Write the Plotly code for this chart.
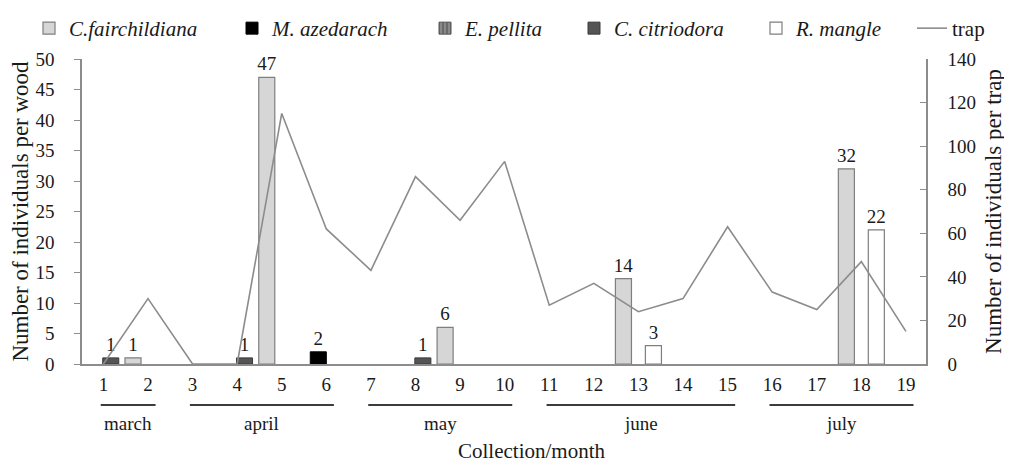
import plotly.graph_objects as go

# ---- data ----
collections = list(range(1, 20))
tick_labels = [str(c) for c in collections]
c_fairchildiana = [None, 1, None, None, 47, None, None, None, 6, None, None, None, 14, None, None, None, None, 32, None]
m_azedarach = [None, None, None, None, None, 2, None, None, None, None, None, None, None, None, None, None, None, None, None]
e_pellita = [None] * 19
c_citriodora = [1, None, None, 1, None, None, None, 1, None, None, None, None, None, None, None, None, None, None, None]
r_mangle = [None, None, None, None, None, None, None, None, None, None, None, None, 3, None, None, None, None, 22, None]
trap = [0, 30, 0, 0, 115, 62, 43, 86, 66, 93, 27, 37, 24, 30, 63, 33, 25, 47, 15]

month_names = ["march", "april", "may", "june", "july"]
month_first = [1, 3, 7, 11, 16]
month_last = [2, 6, 10, 15, 19]

FONT = "Liberation Serif, Times New Roman, serif"
TXT = "#1a1a1a"
AX = "#8c8c8c"

OFF = 8  # page body margin
W, H = 1004, 454
ML, MT = 82 - OFF, 59 - OFF
MR = W - (926 - OFF)
MB = H - (364 - OFF)
PW, PH = W - ML - MR, H - MT - MB


def px_x(p):
    return (p - OFF - ML) / PW


def px_y(p):
    return (H - MB - (p - OFF)) / PH


BW = 0.36  # bar width in category units

series = [
    ("<i>C.fairchildiana</i>", c_fairchildiana, dict(color="#d6d6d6", line=dict(color="#7f7f7f", width=1.2)), -0.336),
    ("<i>M. azedarach</i>", m_azedarach, dict(color="#000000", line=dict(color="#000000", width=1)), -0.18),
    ("<i>E. pellita</i>", e_pellita, dict(color="#8a8a8a", line=dict(color="#555555", width=1),
                                          pattern=dict(shape="|", fgcolor="#3a3a3a", size=5, solidity=0.4)), 0.0),
    ("<i>C. citriodora</i>", c_citriodora, dict(color="#555555", line=dict(color="#3a3a3a", width=1)), 0.165),
    ("<i>R. mangle</i>", r_mangle, dict(color="#ffffff", line=dict(color="#7f7f7f", width=1.2)), 0.336),
]
legend_ids = ["legend", "legend2", "legend3", "legend4", "legend5", "legend6"]
legend_text_px = [70, 273, 466, 615, 797, 953]

fig = go.Figure()
for (name, vals, marker, center), lg in zip(series, legend_ids):
    fig.add_trace(go.Bar(
        x=collections, y=vals, name=name, marker=marker,
        width=BW, offset=center - BW / 2,
        texttemplate="%{y}", textposition="outside", constraintext="none",
        textfont=dict(family=FONT, size=19, color=TXT),
        cliponaxis=False, legend=lg,
    ))

fig.add_trace(go.Scatter(
    x=collections, y=trap, name="trap", mode="lines",
    line=dict(color="#8c8c8c", width=1.6), yaxis="y2", legend=legend_ids[5],
))

# month grouping lines and labels
shapes = []
annotations = []
for name, a, b in zip(month_names, month_first, month_last):
    shapes.append(dict(type="line", xref="x", yref="paper",
                       x0=a - 0.06, x1=b + 0.17, y0=px_y(405), y1=px_y(405),
                       line=dict(color="#3c3c3c", width=2)))
    annotations.append(dict(text=name, xref="x", yref="paper",
                            x=(a + b) / 2 + 0.05, y=px_y(423), showarrow=False,
                            font=dict(family=FONT, size=19, color=TXT),
                            xanchor="center", yanchor="middle"))
annotations.append(dict(text="Collection/month", xref="paper", yref="paper",
                        x=px_x(531), y=px_y(451), showarrow=False,
                        font=dict(family=FONT, size=21, color=TXT),
                        xanchor="center", yanchor="middle"))

legends = {}
for lg, tx in zip(legend_ids, legend_text_px):
    legends[lg] = dict(orientation="h", xref="container", yref="container",
                       x=(tx - 41 - OFF) / W, y=1, xanchor="left", yanchor="top",
                       font=dict(family=FONT, size=21, color=TXT), bgcolor="rgba(0,0,0,0)",
                       borderwidth=0)

fig.update_layout(
    width=W, height=H, autosize=False,
    margin=dict(l=ML, r=MR, t=MT, b=MB, autoexpand=False),
    paper_bgcolor="white", plot_bgcolor="white",
    barmode="overlay",
    font=dict(family=FONT, size=19, color=TXT),
    showlegend=True,
    shapes=shapes, annotations=annotations,
    xaxis=dict(range=[0.52, 19.45], tickmode="array", tickvals=collections, ticktext=tick_labels,
               showline=True, linecolor=AX, linewidth=1.5, ticks="", showgrid=False, zeroline=False,
               ticklabelstandoff=2, automargin=False, tickfont=dict(family=FONT, size=19, color=TXT)),
    yaxis=dict(range=[0, 50], dtick=5, tick0=0, ticks="outside", ticklen=6, tickcolor=AX,
               showline=True, linecolor=AX, linewidth=1.5, showgrid=False, zeroline=False,
               ticklabelstandoff=16, automargin=False, tickfont=dict(family=FONT, size=19, color=TXT),
               title=dict(text="Number of individuals per wood", font=dict(family=FONT, size=23, color=TXT), standoff=3)),
    yaxis2=dict(range=[0, 140], dtick=20, tick0=0, overlaying="y", side="right",
                ticks="inside", ticklen=6, tickcolor=AX,
                showline=True, linecolor=AX, linewidth=1.5, showgrid=False, zeroline=False,
                ticklabelstandoff=16, automargin=False, tickfont=dict(family=FONT, size=19, color=TXT),
                title=dict(text="Number of individuals per trap", font=dict(family=FONT, size=23, color=TXT), standoff=10)),
    **legends,
)

fig.write_html("out.html")
